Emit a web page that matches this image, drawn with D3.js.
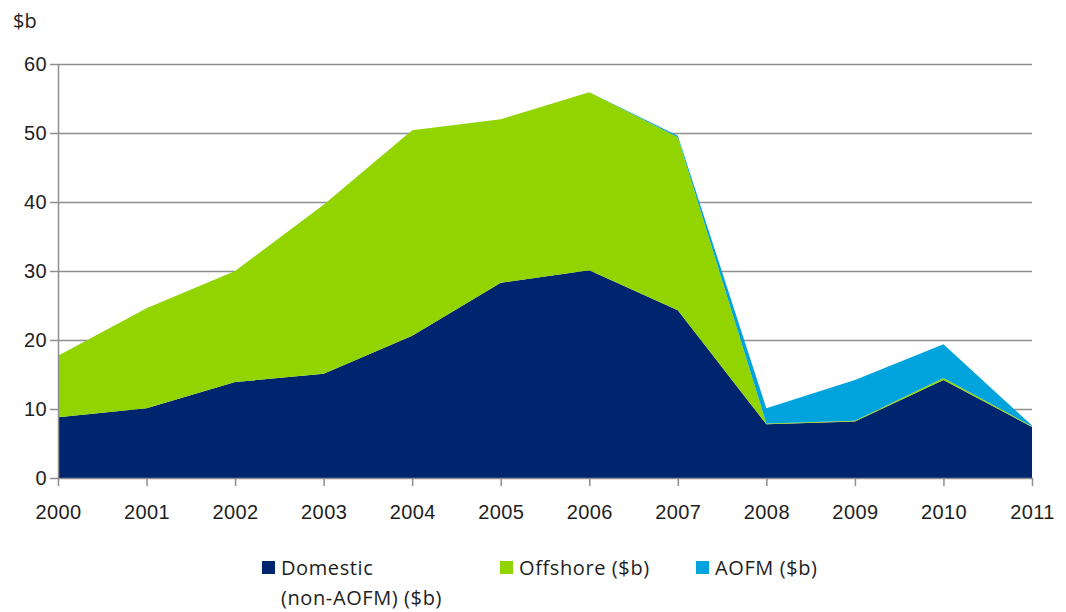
<!DOCTYPE html>
<html>
<head>
<meta charset="utf-8">
<script src="https://cdn.jsdelivr.net/npm/d3@7"></script>
<style>
  body { margin: 0; background: #fff; }
  svg { display: block; font-family: "Open Sans", "Liberation Sans", sans-serif; }
</style>
</head>
<body>
<div id="chart"></div>
<script>
// values ($b)
const years = [2000, 2001, 2002, 2003, 2004, 2005, 2006, 2007, 2008, 2009, 2010, 2011];
const domestic = [8.8, 10.1, 13.9, 15.1, 20.6, 28.3, 30.1, 24.3, 7.8, 8.2, 14.2, 7.4];
const offshore = [8.9, 14.5, 16.1, 24.5, 29.8, 23.7, 25.8, 25.1, 0.1, 0.1, 0.3, 0.1];
const aofm = [0, 0, 0, 0, 0, 0, 0, 0.2, 2.2, 5.9, 4.9, 0.1];
const yTicks = [0, 10, 20, 30, 40, 50, 60];
const seriesNames = ["Domestic (non-AOFM) ($b)", "Offshore ($b)", "AOFM ($b)"];
const colors = ["#00256f", "#92d400", "#00a3dc"];

const W = 1066, H = 612;
const margin = { t: 64, r: 34, b: 134, l: 58 };
const fs = 20;
const txt = "#1e1e1e";

const rows = years.map((yr, i) => ({ year: yr, d: domestic[i], o: offshore[i], a: aofm[i] }));
const stack = d3.stack().keys(["d", "o", "a"])(rows);

const x = d3.scaleLinear().domain([2000, 2011]).range([margin.l, W - margin.r]);
const y = d3.scaleLinear().domain([0, 60]).range([H - margin.b, margin.t]);

const svg = d3.select("#chart").append("svg")
  .attr("width", W).attr("height", H)
  .attr("viewBox", [0, 0, W, H]);

// gridlines
svg.append("g")
  .attr("transform", `translate(${margin.l},0)`)
  .call(d3.axisLeft(y).tickValues(yTicks.slice(1)).tickSizeInner(-(W - margin.l - margin.r)).tickSizeOuter(0).tickFormat(""))
  .call(g => g.select(".domain").remove())
  .call(g => g.selectAll("line").attr("stroke", "#8e8e8e").attr("stroke-width", 1.5));

// stacked areas
const area = d3.area()
  .x(d => x(d.data.year))
  .y0(d => y(d[0]))
  .y1(d => y(d[1]));

svg.append("g").selectAll("path")
  .data(stack)
  .join("path")
  .attr("d", area)
  .attr("fill", (d, i) => colors[i]);

// y axis
svg.append("g")
  .attr("transform", `translate(${margin.l},0)`)
  .call(d3.axisLeft(y).tickValues(yTicks).tickSizeInner(8).tickSizeOuter(0).tickPadding(3))
  .call(g => g.select(".domain").attr("stroke", "#8e8e8e").attr("stroke-width", 1.5))
  .call(g => g.selectAll("line").attr("stroke", "#8e8e8e").attr("stroke-width", 1.5))
  .call(g => g.selectAll("text").attr("fill", txt).attr("font-size", fs).attr("letter-spacing", 0.4));

// x axis
svg.append("g")
  .attr("transform", `translate(0,${H - margin.b})`)
  .call(d3.axisBottom(x).tickValues(years).tickFormat(d3.format("d")).tickSizeInner(8).tickSizeOuter(0).tickPadding(19))
  .call(g => g.select(".domain").attr("stroke", "#8e8e8e").attr("stroke-width", 1.5))
  .call(g => g.selectAll("line").attr("stroke", "#8e8e8e").attr("stroke-width", 1.5))
  .call(g => g.selectAll("text").attr("fill", txt).attr("font-size", fs).attr("letter-spacing", 0.4));

// unit label
svg.append("text")
  .attr("x", 13).attr("y", 28)
  .attr("fill", txt).attr("font-size", fs)
  .text("$b");

// legend
const legendX = [262, 500, 696];
const legend = svg.append("g").selectAll("g")
  .data(seriesNames)
  .join("g")
  .attr("transform", (d, i) => `translate(${legendX[i]},561)`);
legend.append("rect")
  .attr("width", 13).attr("height", 13)
  .attr("fill", (d, i) => colors[i]);
legend.append("text")
  .attr("x", 19).attr("y", 14)
  .attr("fill", txt).attr("font-size", fs).attr("letter-spacing", 0.6)
  .each(function (d, i) {
    const t = d3.select(this);
    if (i === 0) {
      t.append("tspan").attr("x", 19).text("Domestic");
      t.append("tspan").attr("x", 19).attr("dy", 30).text("(non-AOFM) ($b)");
    } else {
      t.text(d);
    }
  });
</script>
</body>
</html>
